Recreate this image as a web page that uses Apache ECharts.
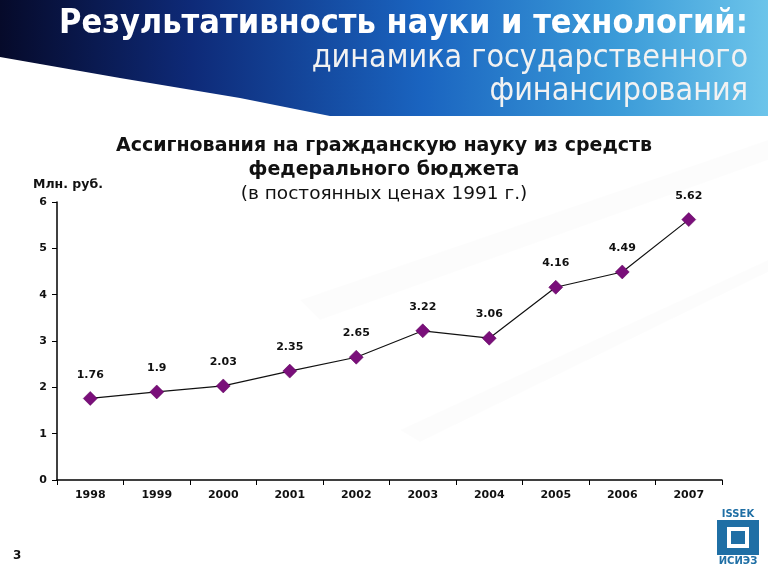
<!DOCTYPE html>
<html><head><meta charset="utf-8">
<script src="https://cdn.jsdelivr.net/npm/echarts@6/dist/echarts.min.js"></script>
<style>html,body{margin:0;padding:0;background:#fff}#c{width:768px;height:576px}</style>
</head><body><div id="c"></div>
<script>
const years = ['1998','1999','2000','2001','2002','2003','2004','2005','2006','2007'];
const values = [1.76, 1.9, 2.03, 2.35, 2.65, 3.22, 3.06, 4.16, 4.49, 5.62];
const yTicks = [0, 1, 2, 3, 4, 5, 6];

const chart = echarts.init(document.getElementById('c'));
const F = '"DejaVu Sans", Verdana, sans-serif';
const N = '"Liberation Sans Narrow", "DejaVu Sans Condensed", "Arial Narrow", sans-serif';
chart.setOption({
  backgroundColor: '#ffffff',
  animation: false,
  graphic: [
    { type: 'rect', z: -10, shape: { x: 0, y: 0, width: 768, height: 116 },
      style: { fill: new echarts.graphic.LinearGradient(0, 0, 1, 0, [
        { offset: 0, color: '#060a2a' }, { offset: 0.25, color: '#0e2a78' },
        { offset: 0.55, color: '#1a64c0' }, { offset: 0.8, color: '#3a9ad8' }, { offset: 1, color: '#6cc4ea' }]) } },
    { type: 'polygon', z: -9, shape: { points: [[0, 57], [120, 78], [240, 98], [340, 118], [0, 118]] },
      style: { fill: '#ffffff' } },
    { type: 'rect', z: -9, shape: { x: 0, y: 116, width: 768, height: 4 }, style: { fill: '#ffffff' } },
    { type: 'polygon', z: -8, shape: { points: [[300, 300], [768, 140], [768, 160], [320, 320]] }, style: { fill: 'rgba(0,0,0,0.012)' } },
    { type: 'polygon', z: -8, shape: { points: [[400, 430], [768, 260], [768, 272], [420, 442]] }, style: { fill: 'rgba(0,0,0,0.012)' } },
    { type: 'text', right: 20, top: 7, style: { text: 'Результативность науки и технологий:', font: 'bold 34px ' + N, fill: '#ffffff', textAlign: 'right', shadowColor: 'rgba(0,0,0,0.7)', shadowBlur: 2, shadowOffsetX: 1, shadowOffsetY: 1 } },
    { type: 'text', right: 20, top: 43, style: { text: 'динамика государственного', font: '32px ' + N, fill: '#f2f2f2', textAlign: 'right', shadowColor: 'rgba(0,0,0,0.6)', shadowBlur: 2, shadowOffsetX: 1, shadowOffsetY: 1 } },
    { type: 'text', right: 20, top: 76, style: { text: 'финансирования', font: '32px ' + N, fill: '#f2f2f2', textAlign: 'right', shadowColor: 'rgba(0,0,0,0.6)', shadowBlur: 2, shadowOffsetX: 1, shadowOffsetY: 1 } },
    { type: 'text', left: 'center', top: 134, style: { text: 'Ассигнования на гражданскую науку из средств\nфедерального бюджета', font: 'bold 19px ' + F, fill: '#111', textAlign: 'center', lineHeight: 24 } },
    { type: 'text', left: 'center', top: 185, style: { text: '(в постоянных ценах 1991 г.)', font: '18.5px ' + F, fill: '#111', textAlign: 'center' } },
    { type: 'text', left: 33, top: 178, style: { text: 'Млн. руб.', font: 'bold 12.5px ' + F, fill: '#111' } },
    { type: 'text', left: 13, top: 550, style: { text: '3', font: 'bold 12px ' + F, fill: '#111' } },
    { type: 'group', left: 714, top: 509, children: [
      { type: 'rect', shape: { x: 0, y: 0, width: 48, height: 58 }, style: { fill: '#ffffff' } },
      { type: 'text', style: { x: 24, y: 0, text: 'ISSEK', font: 'bold 10px ' + F, fill: '#1f6fa5', textAlign: 'center' } },
      { type: 'rect', shape: { x: 3, y: 11, width: 42, height: 35 }, style: { fill: '#1f6fa5' } },
      { type: 'rect', shape: { x: 13, y: 18, width: 22, height: 21 }, style: { fill: '#ffffff' } },
      { type: 'rect', shape: { x: 17, y: 22, width: 14, height: 13 }, style: { fill: '#1f6fa5' } },
      { type: 'text', style: { x: 24, y: 47, text: 'ИСИЭЗ', font: 'bold 10px ' + F, fill: '#1f6fa5', textAlign: 'center' } }
    ] }
  ],
  grid: { left: 57, right: 46, top: 202, bottom: 96 },
  xAxis: {
    type: 'category', data: years, boundaryGap: true,
    axisLine: { lineStyle: { color: '#000', width: 1.5 } },
    axisTick: { show: true, inside: false, length: 5, lineStyle: { color: '#000' } },
    axisLabel: { color: '#111', fontFamily: F, fontSize: 11, fontWeight: 'bold', margin: 10 },
    splitLine: { show: false }
  },
  yAxis: {
    type: 'value', min: yTicks[0], max: yTicks[yTicks.length - 1], interval: 1,
    axisLine: { show: true, lineStyle: { color: '#000', width: 1.5 } },
    axisTick: { show: true, inside: false, length: 5, lineStyle: { color: '#000' } },
    axisLabel: { color: '#111', fontFamily: F, fontSize: 11, fontWeight: 'bold', margin: 10 },
    splitLine: { show: false }
  },
  series: [{
    type: 'line', data: values,
    symbol: 'diamond', symbolSize: 14,
    lineStyle: { color: '#111', width: 1.2 },
    itemStyle: { color: '#7a0f7a', borderColor: '#5a005a', borderWidth: 0.5 },
    label: { show: true, position: 'top', distance: 11, color: '#111', fontFamily: F, fontSize: 11, fontWeight: 'bold' }
  }]
});
</script></body></html>
